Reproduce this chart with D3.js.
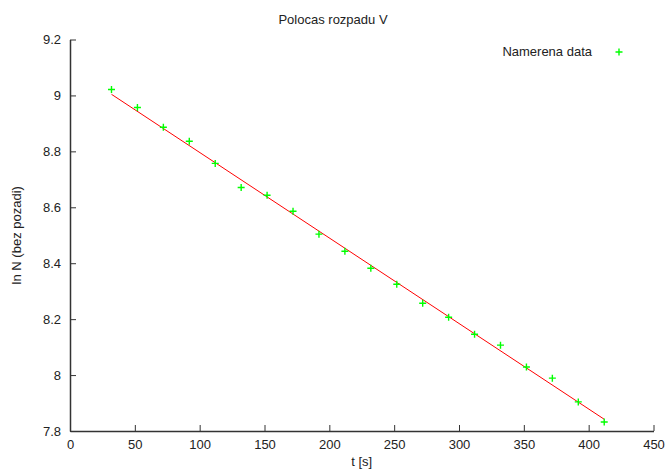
<!DOCTYPE html>
<html>
<head>
<meta charset="utf-8">
<script src="https://cdn.jsdelivr.net/npm/d3@7"></script>
<style>
  body { margin: 0; background: #fff; }
  text { font-family: "Liberation Sans", Arial, sans-serif; fill: #222; }
</style>
</head>
<body>
<svg id="chart" width="667" height="469"></svg>
<script>
// measured data (t in s, ln N)
const times = [32, 52, 72, 92, 112, 132, 152, 172, 192, 212, 232, 252, 272, 292, 312, 332, 352, 372, 392, 412];
const lnN = [9.021, 8.957, 8.886, 8.836, 8.757, 8.671, 8.643, 8.586, 8.504, 8.443,
             8.382, 8.325, 8.257, 8.207, 8.146, 8.107, 8.029, 7.989, 7.904, 7.832];
// fitted line end points
const fitT = [32, 412];
const fitY = [9.004, 7.842];
const xTicks = [0, 50, 100, 150, 200, 250, 300, 350, 400, 450];
const yTicks = [7.8, 8, 8.2, 8.4, 8.6, 8.8, 9, 9.2];

const svg = d3.select("#chart");
const plotL = 70, plotR = 653.5, plotT = 39.5, plotB = 431;

const x = d3.scaleLinear().domain([0, 450]).range([plotL, plotR]);
const y = d3.scaleLinear().domain([7.8, 9.2]).range([plotB, plotT]);

// axes (ticks inward)
const xAxis = svg.append("g").attr("transform", `translate(0,${plotB})`)
  .call(d3.axisBottom(x).tickValues(xTicks).tickSizeInner(-6).tickSizeOuter(0).tickPadding(9));
const yAxis = svg.append("g").attr("transform", `translate(${plotL},0)`)
  .call(d3.axisLeft(y).tickValues(yTicks).tickFormat(d3.format("")).tickSizeInner(-6).tickSizeOuter(0).tickPadding(9));

[xAxis, yAxis].forEach(function (g) {
  g.select(".domain").attr("stroke", "#333").attr("stroke-width", 1.5);
  g.selectAll(".tick line").attr("stroke", "#333");
  g.selectAll(".tick text").attr("font-size", 13).attr("fill", "#222")
    .style("font-family", "Liberation Sans, Arial, sans-serif");
});

// fit line
svg.append("line")
  .attr("x1", x(fitT[0])).attr("y1", y(fitY[0]))
  .attr("x2", x(fitT[1])).attr("y2", y(fitY[1]))
  .attr("stroke", "#ff0000").attr("stroke-width", 1);

// data points as plus markers
function plusPath(cx, cy, s) {
  return `M${cx - s},${cy}H${cx + s}M${cx},${cy - s}V${cy + s}`;
}
svg.append("g").selectAll("path")
  .data(times.map((t, i) => [t, lnN[i]]))
  .join("path")
  .attr("d", d => plusPath(x(d[0]), y(d[1]), 3.5))
  .attr("stroke", "#00ff00").attr("stroke-width", 1.4).attr("fill", "none");

// title and labels
svg.append("text").attr("x", 333).attr("y", 24).attr("text-anchor", "middle")
  .attr("font-size", 13).text("Polocas rozpadu V");
svg.append("text").attr("x", (plotL + plotR) / 2).attr("y", 466).attr("text-anchor", "middle")
  .attr("font-size", 13).text("t [s]");
svg.append("text").attr("transform", `translate(21,${(plotT + plotB) / 2}) rotate(-90)`)
  .attr("text-anchor", "middle").attr("font-size", 13).text("ln N (bez pozadi)");

// legend
svg.append("text").attr("x", 592).attr("y", 56).attr("text-anchor", "end")
  .attr("font-size", 13).text("Namerena data");
svg.append("path").attr("d", plusPath(619, 52, 3.5))
  .attr("stroke", "#00ff00").attr("stroke-width", 1.4).attr("fill", "none");
</script>
</body>
</html>
